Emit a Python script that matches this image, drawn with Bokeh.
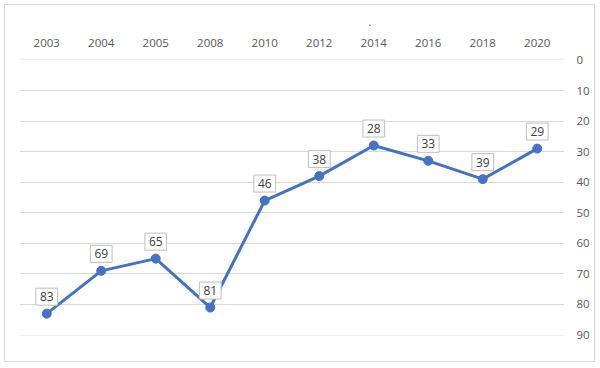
from bokeh.plotting import figure
from bokeh.models import FactorRange, Range1d, ColumnDataSource, FixedTicker
from bokeh.core.properties import value
from bokeh.embed import file_html
from bokeh.resources import INLINE

years = ["2003", "2004", "2005", "2008", "2010", "2012", "2014", "2016", "2018", "2020"]
ranks = [83, 69, 65, 81, 46, 38, 28, 33, 39, 29]
y_ticks = [0, 10, 20, 30, 40, 50, 60, 70, 80, 90]

src = ColumnDataSource(dict(x=years, y=ranks, lab=[str(v) for v in ranks]))

p = figure(width=591, height=358, output_backend="svg", toolbar_location=None,
           x_range=FactorRange(*years), y_range=Range1d(90.15, -0.15),
           x_axis_location="above", y_axis_location="right",
           min_border_left=14, min_border_right=32, min_border_top=53, min_border_bottom=28,
           title=".")
p.styles = {"border": "1px solid #D9D9D9", "margin": "4px"}
p.title.text_font = "Open Sans"
p.title.text_font_size = "10px"
p.title.text_color = "#404040"
p.title.align = "left"
p.title.offset = 349
p.title.standoff = 20
p.title.text_font_style = "normal"

p.outline_line_color = None
p.xgrid.grid_line_color = None
p.ygrid.grid_line_color = "#D9D9D9"
p.ygrid.grid_line_width = 1
p.yaxis.ticker = FixedTicker(ticks=y_ticks)

for ax in (p.xaxis[0], p.yaxis[0]):
    ax.axis_line_color = None
    ax.major_tick_line_color = None
    ax.minor_tick_line_color = None
    ax.major_label_text_font = "Open Sans"
    ax.major_label_text_font_size = "11.5px"
    ax.major_label_text_color = "#595959"
p.xaxis.major_label_standoff = 7
p.yaxis.major_label_standoff = 6

p.line("x", "y", source=src, line_color="#4472C4", line_width=3)
p.scatter("x", "y", source=src, size=9, fill_color="#4472C4", line_color="#4472C4")

p.text("x", "y", text="lab", source=src, y_offset=-17,
       text_align="center", text_baseline="middle",
       text_font=value("Open Sans"), text_font_size="12px", text_color="#404040",
       background_fill_color="white", border_line_color="#BFBFBF",
       padding=4)

open("out.html", "w").write(file_html(p, INLINE))
